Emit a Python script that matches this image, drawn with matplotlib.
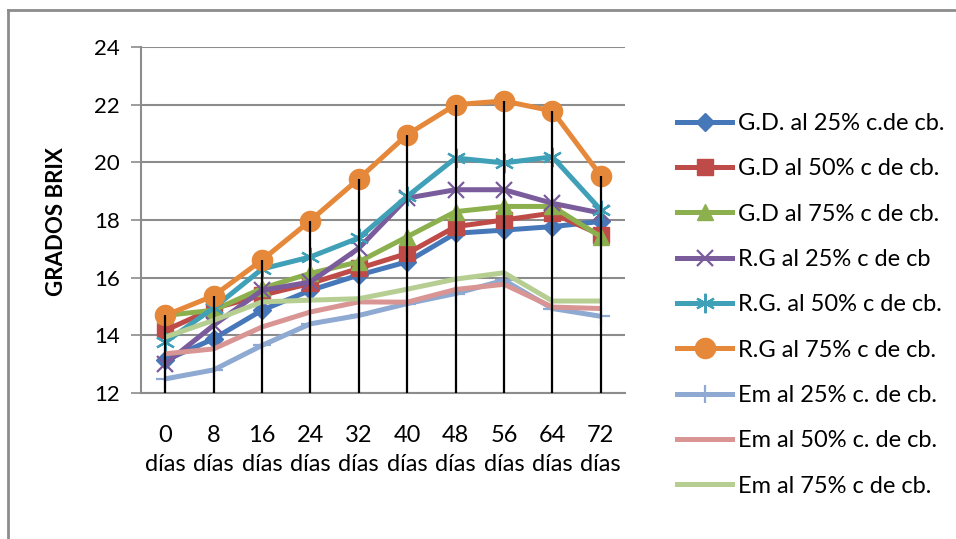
import matplotlib
matplotlib.use("Agg")
import matplotlib.pyplot as plt
from matplotlib.lines import Line2D
import numpy as np

plt.rcParams['font.family'] = ['Lato', 'DejaVu Sans']

days = [0, 8, 16, 24, 32, 40, 48, 56, 64, 72]
tick_labels = [f"{d}\ndías" for d in days]

series_names = [
    "G.D. al 25% c.de cb.",
    "G.D al 50% c de cb.",
    "G.D al 75% c de cb.",
    "R.G al 25% c de cb",
    "R.G. al 50% c de cb.",
    "R.G al 75% c de cb.",
    "Em al 25% c. de cb.",
    "Em al 50% c. de cb.",
    "Em al 75% c de cb.",
]

gd25 = [13.13, 13.88, 14.87, 15.56, 16.09, 16.55, 17.54, 17.65, 17.77, 17.95]
gd50 = [14.17, 14.93, 15.39, 15.80, 16.32, 16.84, 17.77, 18.00, 18.24, 17.48]
gd75 = [14.69, 14.87, 15.63, 16.15, 16.55, 17.42, 18.29, 18.47, 18.47, 17.42]
rg25 = [13.01, 14.35, 15.56, 15.85, 17.02, 18.76, 19.05, 19.05, 18.58, 18.24]
rg50 = [13.76, 14.95, 16.30, 16.72, 17.38, 18.82, 20.15, 19.98, 20.19, 18.35]
rg75 = [14.69, 15.37, 16.61, 17.98, 19.43, 20.96, 22.00, 22.13, 21.78, 19.54]
em25 = [12.49, 12.80, 13.65, 14.40, 14.69, 15.10, 15.45, 15.91, 14.93, 14.66]
em50 = [13.36, 13.53, 14.29, 14.81, 15.16, 15.15, 15.59, 15.77, 14.98, 14.93]
em75 = [13.94, 14.52, 15.16, 15.22, 15.27, 15.60, 15.95, 16.17, 15.19, 15.19]

all_series = [gd25, gd50, gd75, rg25, rg50, rg75, em25, em50, em75]

colors = ['#4677B8', '#BE4B48', '#8DB04E', '#7A5C9C', '#3FA0B8',
          '#E5883A', '#8EA9D2', '#D89594', '#B7CE93']
markers = ['D', 's', '^', 'x', (6, 2, 0), 'o', '+', None, None]
msizes = [9, 12, 12, 12, 14, 14.5, 13, 0, 0]


def style(c, m, ms):
    kw = dict(color=c, lw=3.6)
    if m is not None:
        if m in ('x', '+') or isinstance(m, tuple):
            kw.update(marker=m, markersize=ms, markeredgewidth=1.6, markeredgecolor=c)
        else:
            kw.update(marker=m, markersize=ms, markerfacecolor=c, markeredgecolor=c)
    return kw


fig = plt.figure(figsize=(9.56, 5.39), dpi=100)
ax = fig.add_axes([141/956, (539-393)/539, (625-141)/956, (393-47)/539])

x = np.arange(len(days))
for vals, name, c, m, ms in zip(all_series, series_names, colors, markers, msizes):
    ax.plot(x, vals, label=name, solid_capstyle='butt', solid_joinstyle='round',
            **style(c, m, ms))

tops = np.max(np.array(all_series), axis=0)
ax.vlines(x, 12, tops, color='black', lw=1.6, zorder=5)

ax.set_xlim(-0.5, 9.5)
ax.set_ylim(12, 24)
ax.set_yticks(np.arange(12, 25, 2))
ax.set_xticks(x)
ax.set_xticklabels(tick_labels, fontsize=17, linespacing=1.45)
ax.tick_params(axis='x', length=0, pad=23)
ax.tick_params(axis='y', labelsize=16, length=7, width=1.2, color='#8C8C8C',
               direction='out', pad=8)
ax.yaxis.grid(True, color='#8C8C8C', lw=1.5)
ax.set_axisbelow(True)
for s in ['top', 'right']:
    ax.spines[s].set_visible(False)
for s in ['left', 'bottom']:
    ax.spines[s].set_color('#8C8C8C')
    ax.spines[s].set_linewidth(1.5)

fig.text(57/956, 1 - 222/539, 'GRADOS BRIX', rotation=90, fontsize=16,
         fontweight='bold', ha='center', va='center')

handles = [Line2D([0], [0], **style(c, m, ms))
           for c, m, ms in zip(colors, markers, msizes)]
leg = fig.legend(handles, series_names, loc='upper left',
                 bbox_to_anchor=(677/956, 1 - 113/539), frameon=False,
                 fontsize=17, handlelength=2.35, handletextpad=0.22,
                 labelspacing=1.03, borderaxespad=0, borderpad=0)

# outer chart frame
fig.add_artist(Line2D([8/956, 8/956], [0, 1 - 10/539], color='#8C8C8C', lw=2,
                      transform=fig.transFigure))
fig.add_artist(Line2D([8/956, 1], [1 - 10/539, 1 - 10/539], color='#8C8C8C', lw=2,
                      transform=fig.transFigure))

fig.savefig('out.png', dpi=100)
